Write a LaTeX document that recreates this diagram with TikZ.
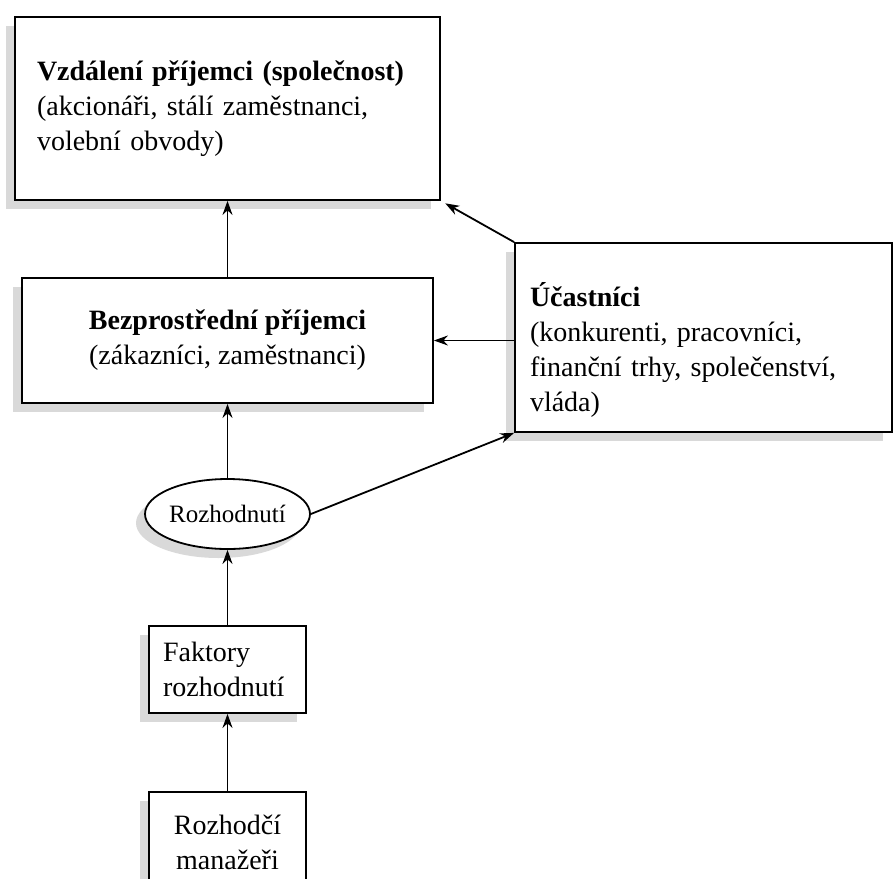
\documentclass[tikz,border=0pt]{standalone}
\usepackage{fontspec}
\setmainfont{Liberation Serif}
\usetikzlibrary{shapes.geometric,shadows,arrows.meta}

\begin{document}
\begin{tikzpicture}[x=1pt,y=-1pt,line width=1.8pt,
    every node/.style={draw,fill=white,inner sep=0pt,
      font=\fontsize{28}{35}\selectfont,
      drop shadow={shadow xshift=-9pt,shadow yshift=-9pt,fill=black!15,opacity=1}},
    box/.style={rectangle},
    >={Stealth[length=14pt,width=10pt]}]
  \useasboundingbox (0,0) rectangle (893,878);

  \node[box,minimum width=425pt,minimum height=183pt,align=left,text width=381pt]
    (far) at (227.5,108.5)
    {\textbf{Vzdálení příjemci (společnost)}\\(akcionáři, stálí zaměstnanci,\\volební obvody)};
  \node[box,minimum width=411pt,minimum height=125pt,align=center]
    (near) at (227.5,340.5)
    {\textbf{Bezprostřední příjemci}\\(zákazníci, zaměstnanci)};
  \node[box,minimum width=377pt,minimum height=189pt,align=left,text width=347pt]
    (part) at (703.5,337.5)
    {\rule{0pt}{48pt}\textbf{Účastníci}\\(konkurenti, pracovníci,\\finanční trhy, společenství,\\vláda)};

  \node[ellipse,minimum width=148pt,minimum height=70pt,
    font=\fontsize{25}{28}\selectfont] (dec) at (227.5,514) {Rozhodnutí};

  \node[box,minimum width=157pt,minimum height=87pt,align=left,text width=129pt]
    (fac) at (227.5,669.5) {Faktory\\rozhodnutí};
  \node[box,minimum width=157pt,minimum height=100pt,align=center]
    (mgr) at (227.5,842) {Rozhodčí\\manažeři};

  \draw[->] (near) -- (far);
  \draw[->,shorten >=5pt] (part.north west) -- (far.south east);
  \draw[->] (near -| part.west) -- (near.east);
  \draw[->] (dec) -- (near);
  \draw[->] (dec.east) -- (part.south west);
  \draw[->] (fac) -- (dec);
  \draw[->] (mgr) -- (fac);
\end{tikzpicture}
\end{document}
